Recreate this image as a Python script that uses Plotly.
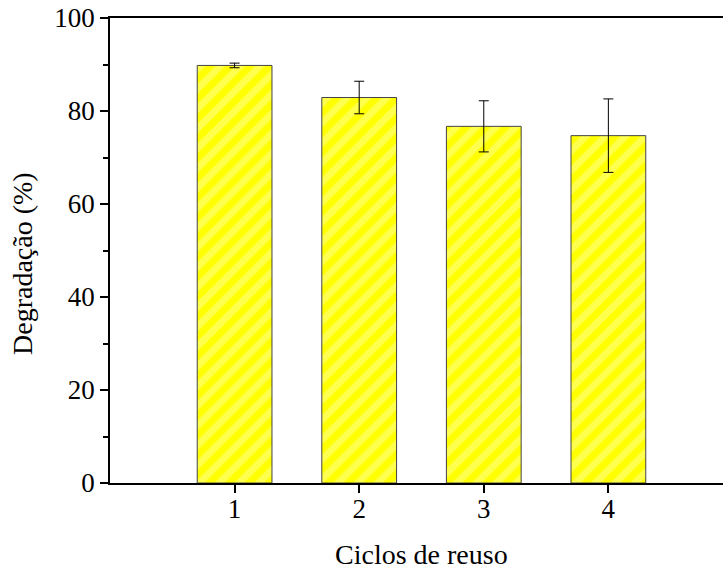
import plotly.graph_objects as go

ciclos = [1, 2, 3, 4]
tick_labels = ["1", "2", "3", "4"]
degradacao = [89.8, 82.9, 76.7, 74.7]
erro = [0.5, 3.5, 5.5, 7.9]

fig = go.Figure()
fig.add_trace(go.Bar(
    x=ciclos, y=degradacao, width=0.6,
    marker=dict(color="#FFFF00", line=dict(color="#444444", width=1),
                pattern=dict(shape="/", bgcolor="#FFFF00", fgcolor="#FFFF99",
                             size=14, solidity=0.5, fillmode="overlay")),
    error_y=dict(type="data", array=erro, visible=True, color="black",
                 thickness=1, width=5),
))

tickfont = dict(family="Liberation Serif", size=27, color="black")
titlefont = dict(family="Liberation Serif", size=28, color="black")

L, R, T, B, W, H = 110, 0, 18, 91, 723, 574
pw, ph = W - L - R, H - T - B

fig.update_layout(
    width=W, height=H,
    margin=dict(l=L, r=R, t=T, b=B),
    plot_bgcolor="white", paper_bgcolor="white",
    font=tickfont, showlegend=False, bargap=0.4,
    xaxis=dict(range=[0, 4.92], tickvals=ciclos, ticktext=tick_labels,
               tickfont=tickfont, ticklabelstandoff=-7,
               showline=True, linecolor="black", linewidth=1.5, mirror=True,
               ticks="outside", ticklen=8, tickwidth=1.5, tickcolor="black",
               showgrid=False, zeroline=False),
    yaxis=dict(range=[0, 100], tickvals=[0, 20, 40, 60, 80, 100],
               tickfont=tickfont,
               showline=True, linecolor="black", linewidth=1.5,
               ticks="outside", ticklen=8, tickwidth=1.5, tickcolor="black",
               minor=dict(tickvals=[10, 30, 50, 70, 90], ticks="outside", ticklen=5,
                          tickwidth=1.5, tickcolor="black", showgrid=False),
               showgrid=False, zeroline=False),
    annotations=[
        dict(text="Ciclos de reuso", xref="paper", yref="paper",
             x=(421 - L) / pw, y=(H - B - 554) / ph, xanchor="center", yanchor="middle",
             showarrow=False, font=titlefont),
        dict(text="Degradação (%)", xref="paper", yref="paper", textangle=-90,
             x=(22 - L) / pw, y=(H - B - 264) / ph, xanchor="center", yanchor="middle",
             showarrow=False, font=titlefont),
    ],
)
fig.write_html("out.html")
